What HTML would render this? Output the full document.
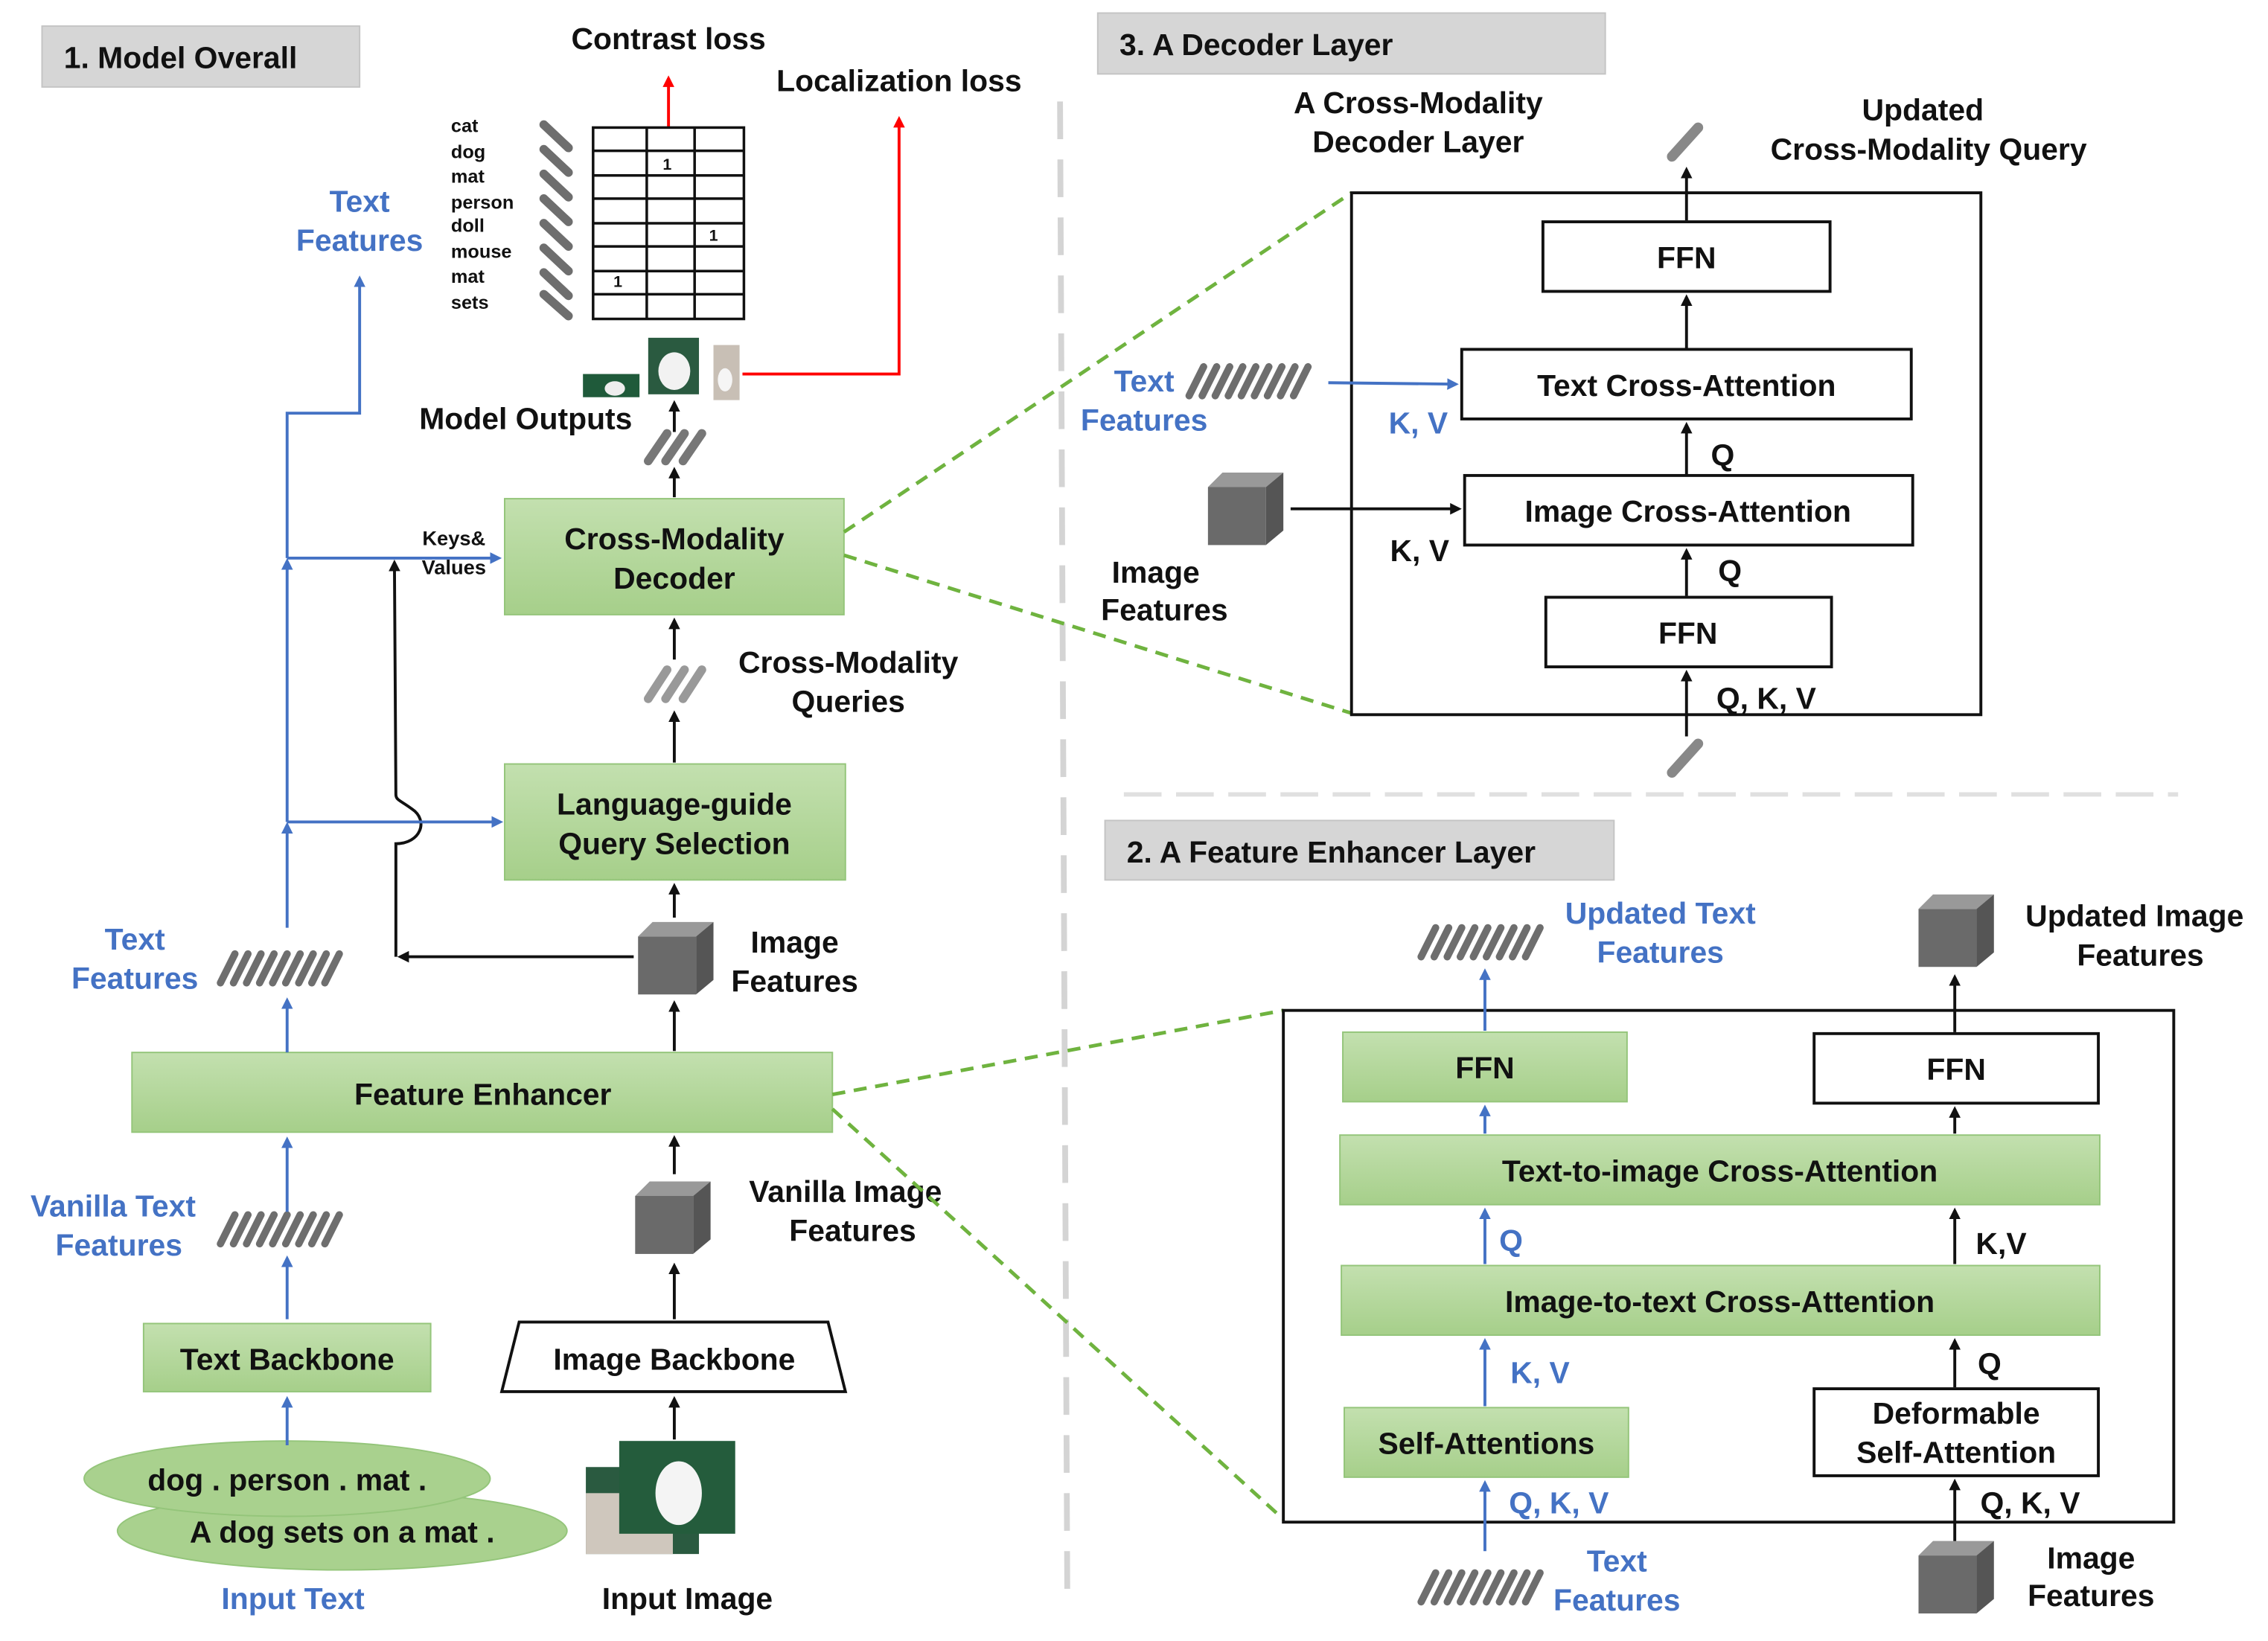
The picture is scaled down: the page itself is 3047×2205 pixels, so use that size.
<!DOCTYPE html>
<html><head><meta charset="utf-8"><style>
html,body{margin:0;padding:0;background:#fff}
svg{display:block}
text{font-family:"Liberation Sans",sans-serif;font-weight:bold;fill:#111}
.b{fill:#4472c4}
.c{text-anchor:middle}
</style></head><body>
<svg width="3047" height="2205" viewBox="0 0 1564 1132" preserveAspectRatio="none" xmlns="http://www.w3.org/2000/svg">
<defs>
<linearGradient id="g" x1="0" y1="0" x2="0" y2="1"><stop offset="0" stop-color="#c3e0af"/><stop offset="1" stop-color="#a6cf8a"/></linearGradient>
<marker id="ak" markerWidth="8" markerHeight="8" refX="6" refY="4" orient="auto" markerUnits="userSpaceOnUse"><path d="M0,0 L8,4 L0,8 z" fill="#111"/></marker>
<marker id="ab" markerWidth="8" markerHeight="8" refX="6" refY="4" orient="auto" markerUnits="userSpaceOnUse"><path d="M0,0 L8,4 L0,8 z" fill="#4472c4"/></marker>
<marker id="ar" markerWidth="8" markerHeight="8" refX="6" refY="4" orient="auto" markerUnits="userSpaceOnUse"><path d="M0,0 L8,4 L0,8 z" fill="#f00"/></marker>
<g id="bar"><line x1="0" y1="20" x2="10" y2="0" stroke="#6e6e6e" stroke-width="5" stroke-linecap="round"/></g>
<g id="bars9"><use href="#bar" x="0"/><use href="#bar" x="9"/><use href="#bar" x="18"/><use href="#bar" x="27"/><use href="#bar" x="36"/><use href="#bar" x="45"/><use href="#bar" x="54"/><use href="#bar" x="63"/><use href="#bar" x="72"/></g>
<g id="cube"><rect x="0" y="10" width="40" height="40" fill="#6a6a6a"/><path d="M0,10 L10,0 L52,0 L40,10z" fill="#999"/><path d="M40,10 L52,0 L52,40 L40,50z" fill="#555"/></g>
</defs>

<rect x="29" y="18" width="219" height="42" fill="#d6d6d6" stroke="#c4c4c4"/>
<text x="44" y="47" font-size="21">1. Model Overall</text>
<rect x="757" y="9" width="350" height="42" fill="#d6d6d6" stroke="#c4c4c4"/>
<text x="772" y="38" font-size="21">3. A Decoder Layer</text>
<rect x="762" y="566" width="351" height="41" fill="#d6d6d6" stroke="#c4c4c4"/>
<text x="777" y="595" font-size="21">2. A Feature Enhancer Layer</text>

<line x1="731" y1="70" x2="736" y2="1100" stroke="#d4d4d4" stroke-width="4" stroke-dasharray="26,14"/>
<line x1="775" y1="548" x2="1502" y2="548" stroke="#e0e0e0" stroke-width="3" stroke-dasharray="26,10"/>

<text x="461" y="34" font-size="21" class="c">Contrast loss</text>
<text x="620" y="63" font-size="21" class="c">Localization loss</text>
<line x1="461" y1="88" x2="461" y2="54" stroke="#f00" stroke-width="2" marker-end="url(#ar)"/>
<polyline points="512,258 620,258 620,82" fill="none" stroke="#f00" stroke-width="2" marker-end="url(#ar)"/>

<g font-size="13">
<text x="311" y="91">cat</text><text x="311" y="109">dog</text><text x="311" y="126">mat</text><text x="311" y="144">person</text><text x="311" y="160">doll</text><text x="311" y="178">mouse</text><text x="311" y="195">mat</text><text x="311" y="213">sets</text>
</g>
<g stroke="#6e6e6e" stroke-width="6" stroke-linecap="round">
<line x1="375" y1="86" x2="392" y2="102"/><line x1="375" y1="103" x2="392" y2="119"/><line x1="375" y1="120" x2="392" y2="136"/><line x1="375" y1="137" x2="392" y2="153"/><line x1="375" y1="154" x2="392" y2="170"/><line x1="375" y1="171" x2="392" y2="187"/><line x1="375" y1="188" x2="392" y2="204"/><line x1="375" y1="203" x2="392" y2="218"/>
</g>
<g stroke="#111" stroke-width="1.8" fill="none">
<rect x="409" y="88" width="104" height="132"/>
<line x1="446" y1="88" x2="446" y2="220"/><line x1="479" y1="88" x2="479" y2="220"/>
<line x1="409" y1="104" x2="513" y2="104"/><line x1="409" y1="121" x2="513" y2="121"/><line x1="409" y1="137" x2="513" y2="137"/><line x1="409" y1="154" x2="513" y2="154"/><line x1="409" y1="170" x2="513" y2="170"/><line x1="409" y1="187" x2="513" y2="187"/><line x1="409" y1="203" x2="513" y2="203"/>
</g>
<g font-size="11"><text x="457" y="117">1</text><text x="489" y="166">1</text><text x="423" y="198">1</text></g>

<rect x="402" y="258" width="39" height="16" fill="#1f5a3a"/><ellipse cx="424" cy="268" rx="7" ry="5" fill="#eee"/>
<rect x="447" y="233" width="35" height="39" fill="#2a5a40"/><ellipse cx="465" cy="256" rx="11" ry="13" fill="#f2f2f2"/>
<rect x="492" y="238" width="18" height="38" fill="#c8bfb5"/><ellipse cx="500" cy="262" rx="5" ry="8" fill="#f5f5f5"/>

<text x="436" y="296" font-size="21" text-anchor="end">Model Outputs</text>
<line x1="465" y1="298" x2="465" y2="278" stroke="#111" stroke-width="2" marker-end="url(#ak)"/>
<g stroke="#777" stroke-width="6" stroke-linecap="round"><line x1="447" y1="318" x2="460" y2="299"/><line x1="459" y1="318" x2="472" y2="299"/><line x1="471" y1="318" x2="484" y2="299"/></g>
<line x1="465" y1="343" x2="465" y2="324" stroke="#111" stroke-width="2" marker-end="url(#ak)"/>

<rect x="348" y="344" width="234" height="80" fill="url(#g)" stroke="#94c57a"/>
<text x="465" y="379" font-size="21" class="c">Cross-Modality</text>
<text x="465" y="406" font-size="21" class="c">Decoder</text>

<line x1="465" y1="455" x2="465" y2="428" stroke="#111" stroke-width="2" marker-end="url(#ak)"/>
<g stroke="#999" stroke-width="6" stroke-linecap="round"><line x1="447" y1="482" x2="460" y2="462"/><line x1="459" y1="482" x2="472" y2="462"/><line x1="471" y1="482" x2="484" y2="462"/></g>
<text x="585" y="464" font-size="21" class="c">Cross-Modality</text>
<text x="585" y="491" font-size="21" class="c">Queries</text>
<line x1="465" y1="526" x2="465" y2="492" stroke="#111" stroke-width="2" marker-end="url(#ak)"/>

<rect x="348" y="527" width="235" height="80" fill="url(#g)" stroke="#94c57a"/>
<text x="465" y="562" font-size="21" class="c">Language-guide</text>
<text x="465" y="589" font-size="21" class="c">Query Selection</text>
<line x1="465" y1="633" x2="465" y2="611" stroke="#111" stroke-width="2" marker-end="url(#ak)"/>
<use href="#cube" x="440" y="636"/>
<text x="548" y="657" font-size="21" class="c">Image</text>
<text x="548" y="684" font-size="21" class="c">Features</text>
<polyline points="437,660 276,660" fill="none" stroke="#111" stroke-width="2" marker-end="url(#ak)"/>
<path d="M273,660 L273,582 C290,582 296,566 284,558 C276,552 273,552 273,548 L272,388" fill="none" stroke="#111" stroke-width="2" marker-end="url(#ak)"/>

<line x1="465" y1="725" x2="465" y2="692" stroke="#111" stroke-width="2" marker-end="url(#ak)"/>
<rect x="91" y="726" width="483" height="55" fill="url(#g)" stroke="#94c57a"/>
<text x="333" y="762" font-size="21" class="c">Feature Enhancer</text>
<line x1="465" y1="810" x2="465" y2="785" stroke="#111" stroke-width="2" marker-end="url(#ak)"/>
<use href="#cube" x="438" y="815"/>
<text x="583" y="829" font-size="21" class="c">Vanilla Image</text>
<text x="588" y="856" font-size="21" class="c">Features</text>
<line x1="465" y1="910" x2="465" y2="873" stroke="#111" stroke-width="2" marker-end="url(#ak)"/>
<path d="M358,912 L571,912 L583,960 L346,960z" fill="#fff" stroke="#111" stroke-width="2"/>
<text x="465" y="945" font-size="21" class="c">Image Backbone</text>
<line x1="465" y1="993" x2="465" y2="965" stroke="#111" stroke-width="2" marker-end="url(#ak)"/>
<rect x="404" y="1012" width="78" height="60" fill="#2a5a40"/><rect x="404" y="1030" width="60" height="42" fill="#cfc7bd"/>
<rect x="427" y="994" width="80" height="64" fill="#245c3c"/><ellipse cx="468" cy="1030" rx="16" ry="22" fill="#f4f4f4"/>
<text x="474" y="1110" font-size="21" class="c">Input Image</text>

<ellipse cx="236" cy="1056" rx="155" ry="27" fill="#a9d18e" stroke="#94c57a"/>
<ellipse cx="198" cy="1020" rx="140" ry="26" fill="#a9d18e" stroke="#94c57a"/>
<text x="198" y="1028" font-size="21" class="c">dog . person . mat .</text>
<text x="236" y="1064" font-size="21" class="c">A dog sets on a mat .</text>
<text x="202" y="1110" font-size="21" class="c b">Input Text</text>
<line x1="198" y1="997" x2="198" y2="965" stroke="#4472c4" stroke-width="2" marker-end="url(#ab)"/>
<rect x="99" y="913" width="198" height="47" fill="url(#g)" stroke="#94c57a"/>
<text x="198" y="945" font-size="21" class="c">Text Backbone</text>
<line x1="198" y1="910" x2="198" y2="868" stroke="#4472c4" stroke-width="2" marker-end="url(#ab)"/>
<use href="#bars9" x="152" y="838"/>
<text x="78" y="839" font-size="21" class="c b">Vanilla Text</text>
<text x="82" y="866" font-size="21" class="c b">Features</text>
<line x1="198" y1="836" x2="198" y2="786" stroke="#4472c4" stroke-width="2" marker-end="url(#ab)"/>
<line x1="198" y1="726" x2="198" y2="690" stroke="#4472c4" stroke-width="2" marker-end="url(#ab)"/>
<use href="#bars9" x="152" y="658"/>
<text x="93" y="655" font-size="21" class="c b">Text</text>
<text x="93" y="682" font-size="21" class="c b">Features</text>
<line x1="198" y1="640" x2="198" y2="569" stroke="#4472c4" stroke-width="2" marker-end="url(#ab)"/>
<line x1="198" y1="567" x2="198" y2="387" stroke="#4472c4" stroke-width="2" marker-end="url(#ab)"/>
<polyline points="198,385 198,285 248,285 248,192" fill="none" stroke="#4472c4" stroke-width="2" marker-end="url(#ab)"/>
<text x="248" y="146" font-size="21" class="c b">Text</text>
<text x="248" y="173" font-size="21" class="c b">Features</text>
<line x1="198" y1="567" x2="345" y2="567" stroke="#4472c4" stroke-width="2" marker-end="url(#ab)"/>
<line x1="198" y1="385" x2="344" y2="385" stroke="#4472c4" stroke-width="2" marker-end="url(#ab)"/>
<text x="313" y="376" font-size="14" class="c">Keys&amp;</text>
<text x="313" y="396" font-size="14" class="c">Values</text>

<g stroke="#6fb33f" stroke-width="2.5" stroke-dasharray="9,6" fill="none">
<line x1="582" y1="367" x2="932" y2="133"/><line x1="582" y1="383" x2="932" y2="492"/>
<line x1="574" y1="755" x2="885" y2="697"/><line x1="574" y1="765" x2="885" y2="1048"/>
</g>

<rect x="932" y="133" width="434" height="360" fill="none" stroke="#111" stroke-width="2"/>
<text x="978" y="78" font-size="21" class="c">A Cross-Modality</text>
<text x="978" y="105" font-size="21" class="c">Decoder Layer</text>
<text x="1326" y="83" font-size="21" class="c">Updated</text>
<text x="1330" y="110" font-size="21" class="c">Cross-Modality Query</text>
<line x1="1153" y1="108" x2="1171" y2="88" stroke="#888" stroke-width="7" stroke-linecap="round"/>
<line x1="1153" y1="533" x2="1171" y2="513" stroke="#888" stroke-width="7" stroke-linecap="round"/>
<g fill="#fff" stroke="#111" stroke-width="2">
<rect x="1064" y="153" width="198" height="48"/><rect x="1008" y="241" width="310" height="48"/><rect x="1010" y="328" width="309" height="48"/><rect x="1066" y="412" width="197" height="48"/>
</g>
<text x="1163" y="185" font-size="21" class="c">FFN</text>
<text x="1163" y="273" font-size="21" class="c">Text Cross-Attention</text>
<text x="1164" y="360" font-size="21" class="c">Image Cross-Attention</text>
<text x="1164" y="444" font-size="21" class="c">FFN</text>
<g stroke="#111" stroke-width="2">
<line x1="1163" y1="508" x2="1163" y2="464" marker-end="url(#ak)"/>
<line x1="1163" y1="411" x2="1163" y2="380" marker-end="url(#ak)"/>
<line x1="1163" y1="327" x2="1163" y2="293" marker-end="url(#ak)"/>
<line x1="1163" y1="240" x2="1163" y2="205" marker-end="url(#ak)"/>
<line x1="1163" y1="152" x2="1163" y2="117" marker-end="url(#ak)"/>
<line x1="890" y1="351" x2="1006" y2="351" marker-end="url(#ak)"/>
</g>
<text x="1218" y="489" font-size="21" class="c">Q, K, V</text>
<text x="1193" y="401" font-size="21" class="c">Q</text>
<text x="1188" y="321" font-size="21" class="c">Q</text>
<text x="789" y="270" font-size="21" class="c b">Text</text>
<text x="789" y="297" font-size="21" class="c b">Features</text>
<use href="#bars9" x="820" y="253"/>
<line x1="916" y1="264" x2="1004" y2="265" stroke="#4472c4" stroke-width="2" marker-end="url(#ab)"/>
<text x="978" y="299" font-size="21" class="c b">K, V</text>
<use href="#cube" x="833" y="326"/>
<text x="797" y="402" font-size="21" class="c">Image</text>
<text x="803" y="428" font-size="21" class="c">Features</text>
<text x="979" y="387" font-size="21" class="c">K, V</text>

<rect x="885" y="697" width="614" height="353" fill="none" stroke="#111" stroke-width="2"/>
<g stroke="#94c57a" fill="url(#g)">
<rect x="926" y="712" width="196" height="48"/><rect x="924" y="783" width="524" height="48"/><rect x="925" y="873" width="523" height="48"/><rect x="927" y="971" width="196" height="48"/>
</g>
<g fill="#fff" stroke="#111" stroke-width="2"><rect x="1251" y="713" width="196" height="48"/><rect x="1251" y="958" width="196" height="60"/></g>
<text x="1024" y="744" font-size="21" class="c">FFN</text>
<text x="1349" y="745" font-size="21" class="c">FFN</text>
<text x="1186" y="815" font-size="21" class="c">Text-to-image Cross-Attention</text>
<text x="1186" y="905" font-size="21" class="c">Image-to-text Cross-Attention</text>
<text x="1025" y="1003" font-size="21" class="c">Self-Attentions</text>
<text x="1349" y="982" font-size="21" class="c">Deformable</text>
<text x="1349" y="1009" font-size="21" class="c">Self-Attention</text>
<g stroke="#4472c4" stroke-width="2">
<line x1="1024" y1="1070" x2="1024" y2="1023" marker-end="url(#ab)"/>
<line x1="1024" y1="970" x2="1024" y2="925" marker-end="url(#ab)"/>
<line x1="1024" y1="872" x2="1024" y2="835" marker-end="url(#ab)"/>
<line x1="1024" y1="782" x2="1024" y2="764" marker-end="url(#ab)"/>
<line x1="1024" y1="711" x2="1024" y2="670" marker-end="url(#ab)"/>
</g>
<g stroke="#111" stroke-width="2">
<line x1="1348" y1="1065" x2="1348" y2="1022" marker-end="url(#ak)"/>
<line x1="1348" y1="957" x2="1348" y2="925" marker-end="url(#ak)"/>
<line x1="1348" y1="872" x2="1348" y2="835" marker-end="url(#ak)"/>
<line x1="1348" y1="782" x2="1348" y2="765" marker-end="url(#ak)"/>
<line x1="1348" y1="712" x2="1348" y2="674" marker-end="url(#ak)"/>
</g>
<text x="1075" y="1044" font-size="21" class="c b">Q, K, V</text>
<text x="1062" y="954" font-size="21" class="c b">K, V</text>
<text x="1042" y="863" font-size="21" class="c b">Q</text>
<text x="1400" y="1044" font-size="21" class="c">Q, K, V</text>
<text x="1372" y="948" font-size="21" class="c">Q</text>
<text x="1380" y="865" font-size="21" class="c">K,V</text>
<use href="#bars9" x="980" y="640"/>
<use href="#bars9" x="980" y="1085"/>
<text x="1145" y="637" font-size="21" class="c b">Updated Text</text>
<text x="1145" y="664" font-size="21" class="c b">Features</text>
<text x="1115" y="1084" font-size="21" class="c b">Text</text>
<text x="1115" y="1111" font-size="21" class="c b">Features</text>
<use href="#cube" x="1323" y="617"/>
<use href="#cube" x="1323" y="1063"/>
<text x="1472" y="639" font-size="21" class="c">Updated Image</text>
<text x="1476" y="666" font-size="21" class="c">Features</text>
<text x="1442" y="1082" font-size="21" class="c">Image</text>
<text x="1442" y="1108" font-size="21" class="c">Features</text>
</svg>
</body></html>
